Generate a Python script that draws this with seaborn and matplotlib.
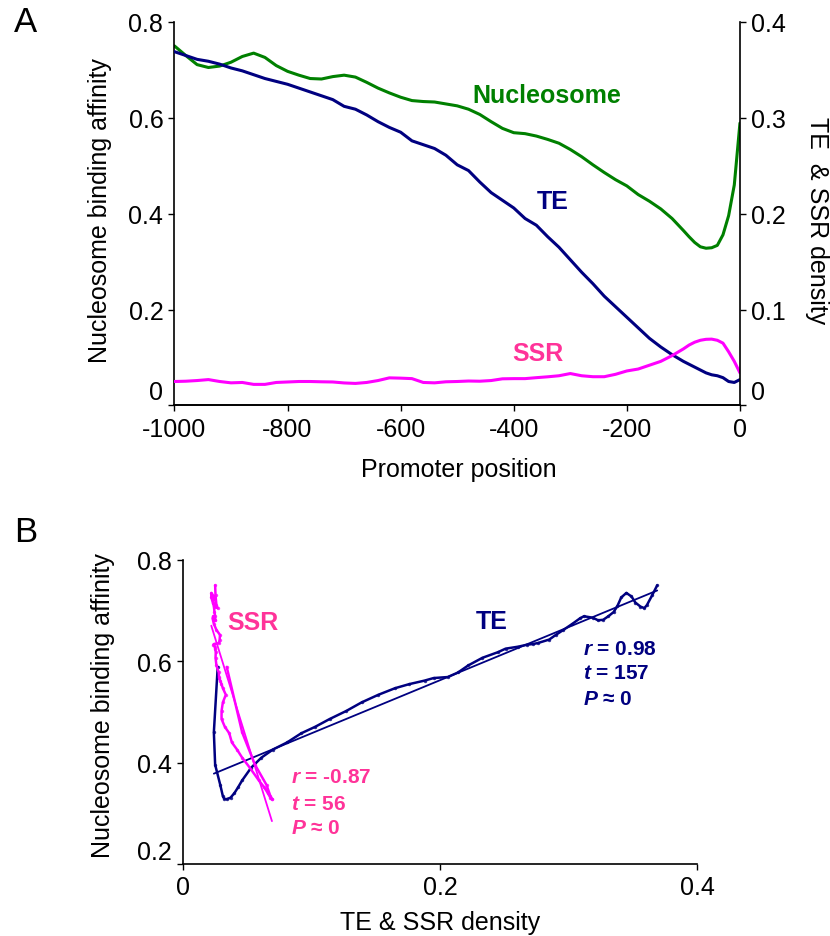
import numpy as np
import pandas as pd
import matplotlib
matplotlib.use("Agg")
import matplotlib.pyplot as plt
import seaborn as sns
from matplotlib.transforms import ScaledTranslation

# ---------------- data ----------------
position = list(range(-1000, -100, 20)) + list(range(-100, 1, 10))

nucleosome = [
    0.750, 0.730, 0.711, 0.705, 0.708, 0.716, 0.728, 0.735, 0.726, 0.709,
    0.697, 0.689, 0.682, 0.681, 0.686, 0.689, 0.685, 0.674, 0.662, 0.652,
    0.643, 0.636, 0.634, 0.633, 0.629, 0.625, 0.618, 0.607, 0.592, 0.578,
    0.569, 0.567, 0.562, 0.555, 0.547, 0.534, 0.519, 0.502, 0.486, 0.471,
    0.458, 0.440, 0.426, 0.410, 0.390,
    0.365, 0.352, 0.340, 0.331, 0.328, 0.329, 0.334, 0.356, 0.396, 0.460, 0.589,
]

te_density = [
    0.369, 0.365, 0.361, 0.359, 0.356, 0.352, 0.349, 0.345, 0.341, 0.338,
    0.335, 0.331, 0.327, 0.323, 0.319, 0.312, 0.309, 0.303, 0.296, 0.290,
    0.285, 0.276, 0.272, 0.268, 0.261, 0.251, 0.245, 0.233, 0.222, 0.214,
    0.206, 0.195, 0.188, 0.176, 0.165, 0.152, 0.139, 0.127, 0.114, 0.103,
    0.092, 0.081, 0.070, 0.061, 0.053,
    0.046, 0.043, 0.040, 0.037, 0.034, 0.032, 0.031, 0.029, 0.025, 0.024, 0.027,
]

ssr_density = [
    0.0250, 0.0253, 0.0260, 0.0270, 0.0250, 0.0236, 0.0240, 0.0220, 0.0220, 0.0240,
    0.0245, 0.0250, 0.0250, 0.0247, 0.0245, 0.0235, 0.0230, 0.0240, 0.0260, 0.0288,
    0.0285, 0.0280, 0.0240, 0.0236, 0.0247, 0.0250, 0.0255, 0.0253, 0.0260, 0.0278,
    0.0280, 0.0280, 0.0290, 0.0299, 0.0310, 0.0333, 0.0310, 0.0300, 0.0300, 0.0325,
    0.0360, 0.0380, 0.0420, 0.0460, 0.0520,
    0.0590, 0.0630, 0.0660, 0.0680, 0.0690, 0.0692, 0.0680, 0.0650, 0.0560, 0.0460, 0.0340,
]

xticks_a = [-1000, -800, -600, -400, -200, 0]
yticks_a_left = [0, 0.2, 0.4, 0.6, 0.8]
yticks_a_left_labels = ["0", "0.2", "0.4", "0.6", "0.8"]
yticks_a_right = [0, 0.1, 0.2, 0.3, 0.4]
yticks_a_right_labels = ["0", "0.1", "0.2", "0.3", "0.4"]
xticks_b = [0, 0.2, 0.4]
xticks_b_labels = ["0", "0.2", "0.4"]
yticks_b = [0.2, 0.4, 0.6, 0.8]
yticks_b_labels = ["0.2", "0.4", "0.6", "0.8"]

te_stats = ["= 0.98", "= 157", "\u2248 0"]
ssr_stats = ["= -0.87", "= 56", "\u2248 0"]
stat_symbols = ["r", "t", "P"]

df = pd.DataFrame({"position": position, "nucleosome": nucleosome,
                   "te": te_density, "ssr": ssr_density})

# ---------------- style ----------------
sns.set_style("ticks")
plt.rcParams["font.family"] = ["Liberation Sans", "DejaVu Sans"]
plt.rcParams["text.color"] = "black"
plt.rcParams["axes.labelcolor"] = "black"
plt.rcParams["xtick.color"] = "black"
plt.rcParams["ytick.color"] = "black"
plt.rcParams["axes.edgecolor"] = "black"
plt.rcParams["mathtext.fontset"] = "custom"
plt.rcParams["mathtext.bfit"] = "Liberation Sans:italic:bold"
plt.rcParams["mathtext.it"] = "Liberation Sans:italic"
plt.rcParams["mathtext.rm"] = "Liberation Sans"
plt.rcParams["mathtext.bf"] = "Liberation Sans:bold"

GREEN = "#008000"
NAVY = "#000080"
MAGENTA = "#FF00FF"
PINK = "#FF3399"
FS = 18

fig = plt.figure(figsize=(8.3, 9.37), dpi=100)

# ---------------- Panel A ----------------
ax1 = fig.add_axes([0.2102, 0.5662, 0.6813, 0.4093])
ax1r = ax1.twinx()

sns.lineplot(data=df, x="position", y="nucleosome", ax=ax1, color=GREEN, lw=2.2)
sns.lineplot(data=df, x="position", y="te", ax=ax1r, color=NAVY, lw=2.2)
sns.lineplot(data=df, x="position", y="ssr", ax=ax1r, color=MAGENTA, lw=2.2)

ax1.set_xlim(-1000, 0)
ax1.set_ylim(0, 0.8)
ax1r.set_ylim(0, 0.4)
ax1.set_xticks(xticks_a)
ax1.set_xticklabels([str(v) for v in xticks_a], fontsize=FS)
ax1.set_yticks(yticks_a_left)
ax1.set_yticklabels(yticks_a_left_labels, fontsize=FS)
ax1r.set_yticks(yticks_a_right)
ax1r.set_yticklabels(yticks_a_right_labels, fontsize=FS)

for ax in (ax1, ax1r):
    ax.spines["top"].set_visible(False)
    ax.tick_params(length=4, width=1, direction="out", pad=4, colors="black")
    for s in ax.spines.values():
        s.set_linewidth(1.2)
        s.set_color("black")
ax1.spines["right"].set_visible(False)
ax1r.spines["left"].set_visible(False)

ax1.set_xlabel("Promoter position", fontsize=FS, va="center")
ax1.xaxis.set_label_coords(0.503, -0.166)
ax1.set_ylabel("Nucleosome binding affinity", fontsize=FS, va="center")
ax1.yaxis.set_label_coords(-0.132, 0.51)
ax1r.set_ylabel("TE  & SSR density", fontsize=FS, rotation=270, va="center")
ax1r.yaxis.set_label_coords(1.136, 0.485)

ax1.text(-474, 0.648, "Nucleosome", color=GREEN, fontsize=FS, fontweight="bold",
         ha="left", va="center")
ax1.text(-331, 0.427, "TE", color=NAVY, fontsize=FS, fontweight="bold",
         ha="center", va="center")
ax1.text(-358, 0.11, "SSR", color=PINK, fontsize=FS, fontweight="bold",
         ha="center", va="center")

# raise the "0" labels like the original
up = ScaledTranslation(0, 0.16, fig.dpi_scale_trans)
lab = ax1.get_yticklabels()[0]
lab.set_transform(lab.get_transform() + up)
lab = ax1r.get_yticklabels()[0]
lab.set_transform(lab.get_transform() + up)

# ---------------- Panel B ----------------
ax2 = fig.add_axes([0.2205, 0.0768, 0.6193, 0.3245])

sns.lineplot(data=df, x="te", y="nucleosome", ax=ax2, sort=False, color=NAVY,
             lw=1.8, estimator=None)
sns.regplot(data=df, x="te", y="nucleosome", ax=ax2, ci=None, color=NAVY,
            scatter_kws=dict(s=6, linewidths=0), line_kws=dict(lw=1.3))
sns.lineplot(data=df, x="ssr", y="nucleosome", ax=ax2, sort=False, color=MAGENTA,
             lw=1.8, estimator=None)
sns.regplot(data=df, x="ssr", y="nucleosome", ax=ax2, ci=None, color=MAGENTA,
            scatter_kws=dict(s=6, linewidths=0), line_kws=dict(lw=1.3))

ax2.set_xlim(0, 0.4)
ax2.set_ylim(0.2, 0.8)
ax2.set_xticks(xticks_b)
ax2.set_xticklabels(xticks_b_labels, fontsize=FS)
ax2.set_yticks(yticks_b)
ax2.set_yticklabels(yticks_b_labels, fontsize=FS)
ax2.spines["top"].set_visible(False)
ax2.spines["right"].set_visible(False)
for s in ax2.spines.values():
    s.set_linewidth(1.2)
    s.set_color("black")
ax2.tick_params(length=4, width=1, direction="out", pad=4, colors="black")

ax2.set_xlabel("TE & SSR density", fontsize=FS, va="center")
ax2.xaxis.set_label_coords(0.501, -0.191)
ax2.set_ylabel("Nucleosome binding affinity", fontsize=FS, va="center")
ax2.yaxis.set_label_coords(-0.156, 0.523)

lab = ax2.get_yticklabels()[0]
lab.set_transform(lab.get_transform() + ScaledTranslation(0, 0.15, fig.dpi_scale_trans))

ax2.text(0.0342, 0.678, "SSR", color=PINK, fontsize=FS, fontweight="bold",
         ha="left", va="center")
ax2.text(0.2402, 0.680, "TE", color=NAVY, fontsize=FS, fontweight="bold",
         ha="center", va="center")

SFS = 15
for sym, val, yy in zip(stat_symbols, te_stats, [0.626, 0.577, 0.527]):
    ax2.text(0.311, yy, r"$\mathbfit{%s}$ %s" % (sym, val), color=NAVY,
             fontsize=SFS, fontweight="bold", ha="left", va="center")
for sym, val, yy in zip(stat_symbols, ssr_stats, [0.373, 0.320, 0.272]):
    ax2.text(0.0838, yy, r"$\mathbfit{%s}$ %s" % (sym, val), color=PINK,
             fontsize=SFS, fontweight="bold", ha="left", va="center")

# ---------------- panel letters ----------------
fig.text(25 / 830, 1 - 22 / 937, "A", fontsize=25, ha="center", va="center")
fig.text(26 / 830, 1 - 532 / 937, "B", fontsize=25, ha="center", va="center")

fig.savefig("out.png", dpi=100)
